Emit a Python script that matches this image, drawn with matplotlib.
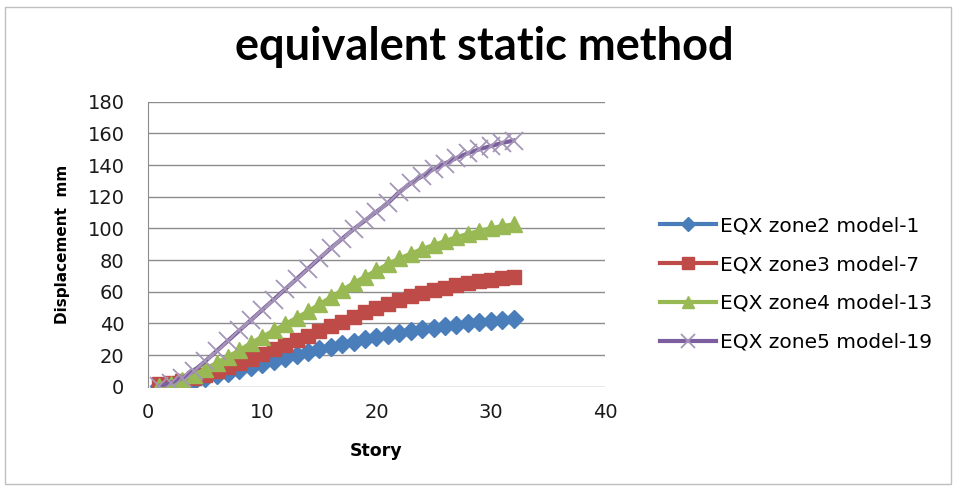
import matplotlib
matplotlib.use('Agg')
import matplotlib.pyplot as plt
from matplotlib.patches import Rectangle

story = list(range(1, 33))
zone2 = [0.3, 1.2, 2.4, 3.8, 5.4, 7.1, 8.9, 10.8, 12.7, 14.6, 16.5, 18.4, 20.2, 22.0, 23.7, 25.3,
         26.9, 28.4, 29.9, 31.3, 32.6, 33.9, 35.1, 36.2, 37.2, 38.2, 39.1, 40.0, 40.8, 41.6, 42.3, 43.0]
zone3 = [2.0, 2.5, 3.8, 5.5, 7.5, 9.8, 12.3, 15.0, 17.8, 20.7, 23.6, 26.5, 29.4, 32.3, 35.3, 38.2,
         41.1, 44.0, 47.0, 49.8, 52.4, 54.8, 57.0, 59.0, 60.8, 62.5, 64.0, 65.4, 66.6, 67.7, 68.7, 69.5]
zone4 = [0.5, 2.0, 4.5, 7.5, 11.0, 15.0, 19.0, 23.0, 27.5, 31.5, 35.5, 39.5, 43.5, 47.5, 52.0, 56.5,
         61.0, 65.5, 69.5, 73.5, 77.5, 81.0, 84.0, 87.0, 89.5, 92.0, 94.5, 96.5, 98.5, 100.0, 101.5, 102.5]
zone5 = [0.5, 2.5, 5.5, 10.0, 16.0, 22.5, 29.0, 35.5, 42.0, 48.5, 55.0, 61.5, 68.0, 74.5, 81.0, 87.5,
         93.5, 99.5, 105.0, 110.5, 116.0, 123.0, 128.5, 133.0, 137.5, 141.0, 144.5, 147.5, 150.0, 152.0, 154.0, 155.5]
labels = ['EQX zone2 model-1', 'EQX zone3 model-7', 'EQX zone4 model-13', 'EQX zone5 model-19']

fig = plt.figure(figsize=(9.56, 4.87), dpi=100)
ax = fig.add_axes([0.1548, 0.206, 0.4780, 0.585])

# excel 2007 colours
ax.plot(story, zone2, color='#4A7EBB', lw=3, marker='D', ms=9, mec='#4A7EBB', label=labels[0])
ax.plot(story, zone3, color='#BE4B48', lw=3, marker='s', ms=10, mec='#BE4B48', label=labels[1])
ax.plot(story, zone4, color='#98B954', lw=3, marker='^', ms=11, mec='#98B954', label=labels[2])
ax.plot(story, zone5, color='#7D5FA0', lw=3, marker='x', ms=13, mew=1.3, mec='#A596B8', label=labels[3])

ax.set_xlim(0, 40)
ax.set_ylim(0, 180)
ax.set_xticks([0, 10, 20, 30, 40])
ax.set_yticks(range(0, 181, 20))
ax.grid(axis='y', color='#8C8C8C', lw=1)
ax.set_axisbelow(True)
for s in ['top', 'right', 'bottom']:
    ax.spines[s].set_visible(False)
ax.spines['left'].set_color('#8C8C8C')
ax.tick_params(length=0, labelsize=14, pad=12, colors='#1a1a1a')
ax.tick_params(axis='y', pad=17)

ax.set_xlabel('Story', fontsize=12.5, fontweight='bold')
ax.set_ylabel('Displacement  mm', fontsize=11, fontweight='bold')
ax.xaxis.set_label_coords(0.5, -0.195)
ax.yaxis.set_label_coords(-0.17, 0.5)

fig.text(0.507, 0.903, 'equivalent static method', ha='center', va='center',
         fontsize=32.5, fontweight='bold', family='Lato')

ax.legend(loc='center left', bbox_to_anchor=(1.08, 0.36), frameon=False, fontsize=14.5,
          handlelength=2.8, handletextpad=0.2, labelspacing=0.98, markerscale=0.8)

fig.add_artist(Rectangle((5 / 956, 1 - 484 / 487), 946 / 956, 477 / 487, transform=fig.transFigure,
                         fill=False, edgecolor='#BFBFBF', lw=1))

fig.savefig('out.png', dpi=100)
